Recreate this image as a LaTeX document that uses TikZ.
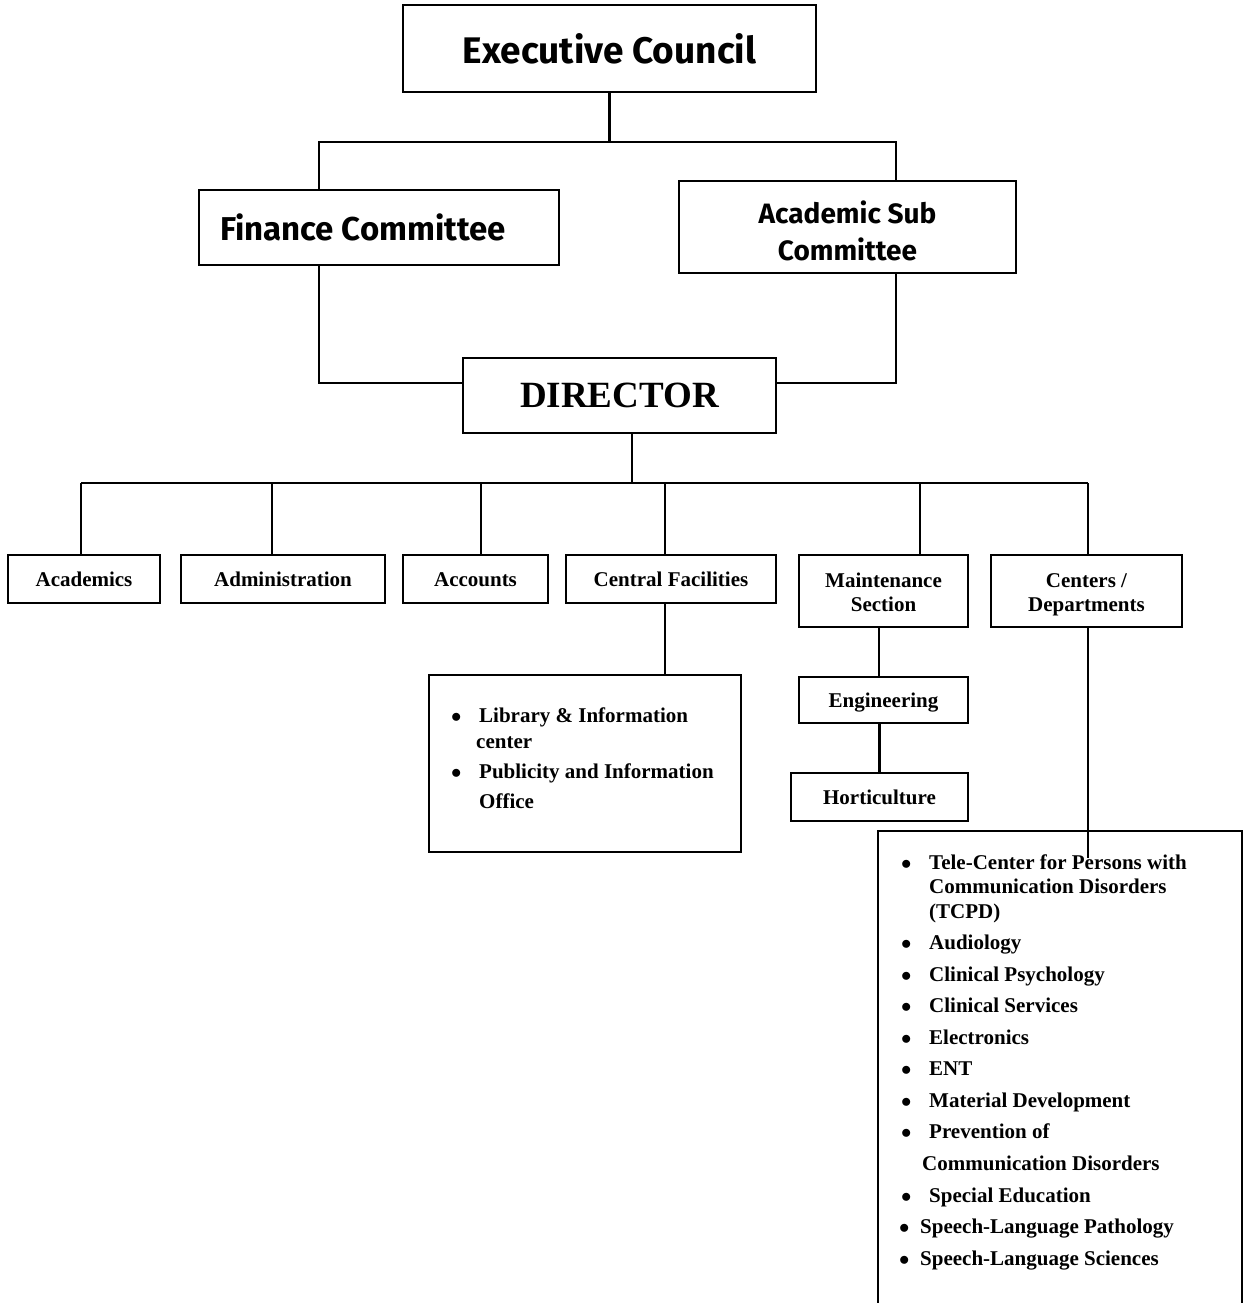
\documentclass[tikz,border=0pt]{standalone}
\usepackage{fontspec}
\setmainfont{Liberation Serif}
\newfontfamily\comic{Fira Sans}
\newcommand\itemdot{\makebox[28pt][l]{$\bullet$}}
\newcommand\vstrut{\rule[-5pt]{0pt}{24pt}}

\begin{document}
\begin{tikzpicture}[
    x=1pt, y=-1pt,
    box/.style={draw, line width=2.2pt, inner sep=0pt, align=center, font=\bfseries\fontsize{21}{24}\selectfont, execute at begin node=\vstrut},
    council/.style={draw, line width=2.2pt, inner sep=0pt, align=center, font=\comic\bfseries\fontsize{#1}{37}\selectfont},
    items/.style={inner sep=0pt, align=left, anchor=north west, font=\bfseries\fontsize{21}{#1}\selectfont},
    link/.style={line width=2.2pt}
]
    \useasboundingbox (0,0) rectangle (1243,1303);

    % Councils
    \node[council=37, minimum width=413, minimum height=87] (exec) at (609.5,48.5) {Executive Council};
    \node[council=33, minimum width=360, minimum height=75, inner xsep=21, text width=318, align=flush left] (fin) at (379,227.5) {Finance Committee};
    \node[council=28, minimum width=337, minimum height=92] (acad) at (847.5,227) {\rule{0pt}{31pt}Academic Sub\\Committee};

    % Director
    \node[draw, line width=2.2pt, inner sep=0pt, font=\bfseries\fontsize{37}{40}\selectfont, minimum width=313, minimum height=75] (dir) at (619.5,395.5) {DIRECTOR};

    % Sections
    \node[box, minimum width=152, minimum height=48] (acd) at (84,579) {Academics};
    \node[box, minimum width=204, minimum height=48] (adm) at (283,579) {Administration};
    \node[box, minimum width=145, minimum height=48] (acc) at (475.5,579) {Accounts};
    \node[box, minimum width=210, minimum height=48] (cf) at (671,579) {Central Facilities};
    \node[box, minimum width=169, minimum height=72] (mnt) at (883.5,591) {\rule{0pt}{22pt}Maintenance\\Section\vstrut};
    \node[box, minimum width=191, minimum height=72] (ctr) at (1086.5,591) {\rule{0pt}{22pt}Centers /\\Departments\vstrut};
    \node[box, minimum width=169, minimum height=46] (eng) at (883.5,700) {Engineering};
    \node[box, minimum width=177, minimum height=48] (hort) at (879.5,797) {Horticulture};

    % Lists
    \node[draw, line width=2.2pt, minimum width=312, minimum height=177] (cfbox) at (585,763.5) {};
    \node[items=26] (cflist) at (451,708) {%
        \itemdot Library \& Information\\
        \hspace*{25pt}center\\[4pt]
        \itemdot Publicity and Information\\[4pt]
        \hspace*{28pt}Office};
    \node[minimum width=364, minimum height=476, inner sep=0pt] (dept) at (1060,1069) {};
    \draw[link] (dept.south west) |- (dept.north east) -- (dept.south east);
    \node[items=24.5] (deptlist) at (901,854) {%
        \itemdot Tele-Center for Persons with\\
        \hspace*{28pt}Communication Disorders\\
        \hspace*{28pt}(TCPD)\\[7pt]
        \itemdot Audiology\\[7pt]
        \itemdot Clinical Psychology\\[7pt]
        \itemdot Clinical Services\\[7pt]
        \itemdot Electronics\\[7pt]
        \itemdot ENT\\[7pt]
        \itemdot Material Development\\[7pt]
        \itemdot Prevention of\\[7.5pt]
        \hspace*{21pt}Communication Disorders\\[7pt]
        \itemdot Special Education\\[7pt]
        \hspace*{-2pt}\makebox[21pt][l]{$\bullet$}Speech-Language Pathology\\[7pt]
        \hspace*{-2pt}\makebox[21pt][l]{$\bullet$}Speech-Language Sciences};

    % Links
    \coordinate (j1) at (609.5,142);
    \coordinate (j2) at (632,483);
    \coordinate (deptend) at (1088,858);
    \draw[link] (exec.south) -- (j1);
    \draw[link] ([xshift=-60]fin.north) |- (j1) -| ([xshift=48.5]acad.north);
    \draw[link] ([xshift=-60]fin.south) |- ([yshift=12.5]dir.west);
    \draw[link] ([xshift=48.5]acad.south) |- ([yshift=12.5]dir.east);
    \draw[link] ([xshift=12.5]dir.south) -- (j2);
    \draw[link] ([xshift=-3]acd.north |- j2) -- ([xshift=1.5]ctr.north |- j2);
    \foreach \n/\dx in {acd/-3, adm/-11, acc/5.5, cf/-6, mnt/36.5, ctr/1.5}
        \draw[link] ([xshift=\dx]\n.north) -- ([xshift=\dx]\n.north |- j2);
    \draw[link] ([xshift=-6]cf.south) -- ([xshift=-6]cf.south |- cfbox.north);
    \draw[link] ([xshift=-4.5]mnt.south) -- ([xshift=-4.5]mnt.south |- eng.north);
    \draw[link] (hort.north |- eng.south) -- (hort.north);
    \draw[link] (ctr.south -| deptend) -- (deptend);
\end{tikzpicture}
\end{document}
